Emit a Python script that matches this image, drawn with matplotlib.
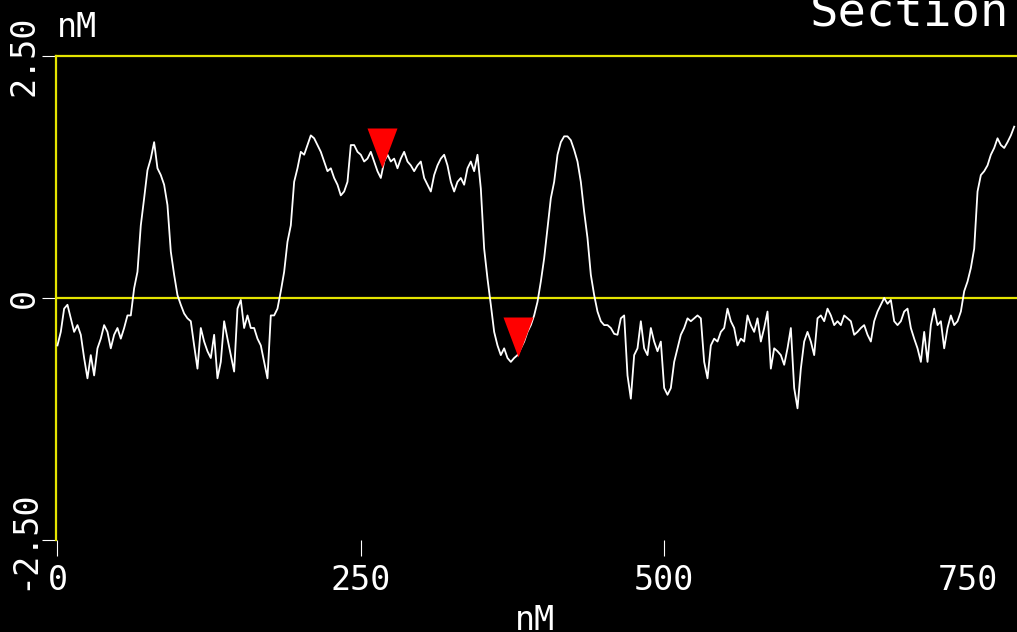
import numpy as np
import matplotlib
matplotlib.use("Agg")
import matplotlib.pyplot as plt
from matplotlib.path import Path

# ---- data (nm) ----
heights = [
    # 0 - 190 nm
    -0.49, -0.35, -0.11, -0.07, -0.21, -0.35, -0.28, -0.38, -0.62, -0.83,
    -0.59, -0.80, -0.52, -0.42, -0.28, -0.35, -0.52, -0.38, -0.31, -0.42,
    -0.31, -0.18, -0.18, 0.10, 0.27, 0.75, 1.03, 1.32, 1.44, 1.61,
    1.34, 1.27, 1.17, 0.96, 0.48, 0.24, 0.03, -0.07, -0.16, -0.21,
    -0.24, -0.49, -0.73, -0.31, -0.45, -0.55, -0.62, -0.38, -0.83, -0.66,
    -0.24, -0.42, -0.59, -0.76, -0.11, -0.02, -0.31, -0.18, -0.31, -0.31,
    -0.42, -0.49, -0.66, -0.83, -0.18, -0.18, -0.11, 0.07, 0.27, 0.58,
    # 192 - 387 nm
    0.75, 1.20, 1.34, 1.51, 1.48, 1.58, 1.68, 1.65, 1.58, 1.51,
    1.41, 1.31, 1.34, 1.24, 1.17, 1.06, 1.10, 1.20, 1.58, 1.58,
    1.51, 1.48, 1.41, 1.44, 1.51, 1.41, 1.31, 1.24, 1.41, 1.48,
    1.41, 1.44, 1.34, 1.44, 1.51, 1.41, 1.37, 1.31, 1.37, 1.41,
    1.24, 1.17, 1.10, 1.27, 1.37, 1.44, 1.48, 1.37, 1.20, 1.10,
    1.20, 1.24, 1.17, 1.34, 1.41, 1.31, 1.48, 1.13, 0.51, 0.20,
    -0.07, -0.35, -0.49, -0.59, -0.52, -0.62, -0.66, -0.62, -0.59, -0.52,
    -0.45, -0.35,
    # 390 - 585 nm
    -0.28, -0.18, -0.04, 0.17, 0.41, 0.72, 1.03, 1.20, 1.48, 1.61,
    1.67, 1.67, 1.63, 1.53, 1.41, 1.20, 0.89, 0.62, 0.24, 0.03,
    -0.14, -0.24, -0.28, -0.28, -0.31, -0.37, -0.38, -0.21, -0.18, -0.80,
    -1.04, -0.59, -0.52, -0.24, -0.52, -0.59, -0.31, -0.45, -0.55, -0.45,
    -0.93, -1.00, -0.93, -0.66, -0.52, -0.38, -0.31, -0.21, -0.24, -0.21,
    -0.18, -0.21, -0.66, -0.83, -0.49, -0.42, -0.45, -0.35, -0.31, -0.11,
    -0.24, -0.31, -0.49, -0.42, -0.45, -0.18, -0.28, -0.35, -0.21, -0.45,
    -0.31, -0.14,
    # 588 - 788 nm
    -0.73, -0.52, -0.55, -0.59, -0.69, -0.52, -0.31, -0.93, -1.14, -0.73,
    -0.45, -0.35, -0.45, -0.59, -0.21, -0.18, -0.24, -0.11, -0.18, -0.28,
    -0.24, -0.28, -0.18, -0.21, -0.24, -0.38, -0.35, -0.31, -0.28, -0.38,
    -0.45, -0.24, -0.14, -0.07, 0.00, -0.06, -0.02, -0.24, -0.28, -0.24,
    -0.14, -0.11, -0.31, -0.42, -0.52, -0.66, -0.35, -0.66, -0.28, -0.11,
    -0.28, -0.24, -0.52, -0.31, -0.18, -0.28, -0.24, -0.14, 0.07, 0.17,
    0.31, 0.51, 1.10, 1.27, 1.31, 1.37, 1.48, 1.55, 1.65, 1.58,
    1.55, 1.61, 1.68, 1.77,
]
sample_step_nm = 2.747
x_nm = np.arange(len(heights)) * sample_step_nm

cursor_x = [267.4, 379.9]
cursor_h = [1.34, -0.61]

x_ticks = [0, 250, 500, 750]
x_tick_labels = ["0", "250", "500", "750"]
y_ticks = [-2.5, 0, 2.5]
y_tick_labels = ["-2.50", "0", "2.50"]

YEL = "#e4e400"
MONO = "DejaVu Sans Mono"

fig = plt.figure(figsize=(10.17, 6.32), dpi=100, facecolor="black")
ax = fig.add_axes([56 / 1017, 92 / 632, 961 / 1017, 484 / 632], facecolor="black")

ax.axhline(0, color=YEL, lw=1.6, zorder=2)
ax.plot(x_nm, heights, color="white", lw=1.3, zorder=3)

tri = Path([(0, 0), (-0.375, 1), (0.375, 1), (0, 0)],
           [Path.MOVETO, Path.LINETO, Path.LINETO, Path.CLOSEPOLY])
ax.plot(cursor_x, cursor_h, linestyle="none", marker=tri, markersize=57.6,
        color="#ff0000", markeredgewidth=0, zorder=4)

ax.set_xlim(-1.2, 790.7)
ax.set_ylim(-2.5, 2.5)

for s in ["bottom", "right"]:
    ax.spines[s].set_visible(False)
for s in ["top", "left"]:
    ax.spines[s].set_color(YEL)
    ax.spines[s].set_linewidth(1.6)

ax.set_xticks(x_ticks)
ax.set_xticklabels(x_tick_labels)
ax.set_yticks(y_ticks)
ax.set_yticklabels(y_tick_labels, rotation=90, va="center")
ax.tick_params(axis="x", colors="white", length=11.5, width=0.8, pad=5.5,
               labelsize=24, direction="out")
ax.tick_params(axis="y", colors="white", length=10, width=0.8, pad=1,
               labelsize=24, direction="out")
for lab in ax.get_xticklabels() + ax.get_yticklabels():
    lab.set_family(MONO)
ax.xaxis.get_major_ticks()[-1].tick1line.set_visible(False)

fig.text(57 / 1017, 1 - 37 / 632, "nM", color="white", family=MONO,
         fontsize=24, ha="left", va="baseline")
fig.text(515 / 1017, 1 - 630 / 632, "nM", color="white", family=MONO,
         fontsize=24, ha="left", va="baseline")
fig.text(810 / 1017, 1 - 25 / 632, "Section", color="white", family=MONO,
         fontsize=34, ha="left", va="baseline")

fig.savefig("out.png", dpi=100, facecolor="black")
